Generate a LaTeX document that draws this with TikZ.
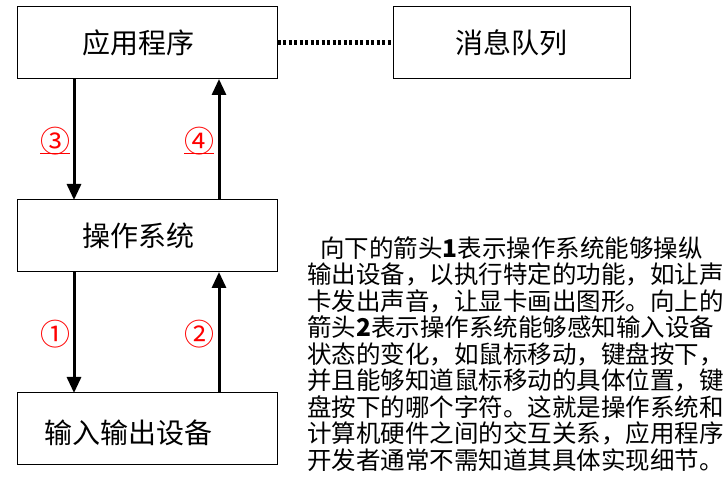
\documentclass[tikz,border=0pt]{standalone}
\usepackage{fontspec}
\newfontfamily\cjk{Noto Sans CJK SC}
\usetikzlibrary{arrows.meta}
\begin{document}
\begin{tikzpicture}[x=1pt,y=-1pt,
  box/.style={draw,line width=1pt,inner sep=0pt},
  lbl/.style={font=\cjk\fontsize{28}{28}\selectfont},
  num/.style={text=red,font=\cjk\fontsize{30}{30}\selectfont},
  arr/.style={line width=3pt,-{Triangle[length=16pt,width=14pt]}},
  para/.style={anchor=west,inner sep=0pt,font=\cjk\fontsize{24.5}{24.5}\selectfont}]
\useasboundingbox (0,0) rectangle (726,502);
\node[box,minimum width=260pt,minimum height=72pt] (app) at (147,43) {};
\node[lbl] at (138,43) {应用程序};
\node[box,minimum width=237pt,minimum height=72pt] (mq) at (511.5,43) {};
\node[lbl] at (511.5,43) {消息队列};
\node[box,minimum width=260pt,minimum height=72pt] (os) at (147,236) {};
\node[lbl] at (138,236) {操作系统};
\node[box,minimum width=260pt,minimum height=72pt] (io) at (147,429) {};
\node[lbl] at (129,433) {输入输出设备};
\draw[line width=5pt,dash pattern=on 3pt off 2.5pt] (app.east) -- (mq.west);
\coordinate (a1) at (74,79); \coordinate (a2) at (74,200);
\coordinate (b1) at (219,200); \coordinate (b2) at (219,79);
\coordinate (c1) at (74,272); \coordinate (c2) at (74,393);
\coordinate (d1) at (219,393); \coordinate (d2) at (219,272);
\draw[arr] (a1) -- (a2);
\draw[arr] (b1) -- (b2);
\draw[arr] (c1) -- (c2);
\draw[arr] (d1) -- (d2);
\node[num] (n3) at (55,141) {③};
\draw[red,line width=0.8pt] (40,153) -- (70,153);
\node[num] (n4) at (199,141) {④};
\draw[red,line width=0.8pt] (184,153) -- (214,153);
\node[num] (n1) at (55,334) {①};
\node[num] (n2) at (199,334) {②};
\node[para] (p1) at (320,248) {向下的箭头\textbf{1}表示操作系统能够操纵};
\node[para] (p2) at (307,274.5) {输出设备，以执行特定的功能，如让声};
\node[para] (p3) at (307,301) {卡发出声音，让显卡画出图形。向上的};
\node[para] (p4) at (307,327.5) {箭头\textbf{2}表示操作系统能够感知输入设备};
\node[para] (p5) at (307,354) {状态的变化，如鼠标移动，键盘按下，};
\node[para] (p6) at (307,380.5) {并且能够知道鼠标移动的具体位置，键};
\node[para] (p7) at (307,407) {盘按下的哪个字符。这就是操作系统和};
\node[para] (p8) at (307,433.5) {计算机硬件之间的交互关系，应用程序};
\node[para] (p9) at (307,460) {开发者通常不需知道其具体实现细节。};
\end{tikzpicture}
\end{document}
